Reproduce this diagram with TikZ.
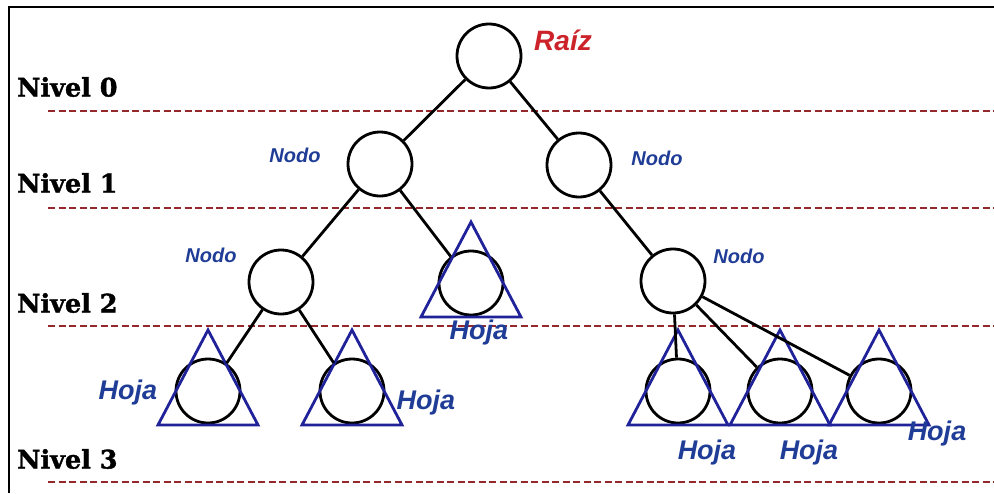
\documentclass[tikz,border=0pt]{standalone}
\usepackage{fontspec}
\setmainfont{Liberation Sans}
\newfontfamily\levelfont[FakeBold=1.5]{DejaVu Serif Bold}
\usetikzlibrary{calc}

\definecolor{levelred}{HTML}{94282A}
\definecolor{rootred}{HTML}{CC2229}
\definecolor{labelblue}{HTML}{1F3C96}
\definecolor{leafblue}{HTML}{20229A}

\tikzset{
  treenode/.style={circle, draw=black, line width=2.8pt, minimum size=64pt, inner sep=0pt},
  edge/.style={draw=black, line width=2.8pt},
  leafmark/.style={draw=leafblue, line width=2.8pt, line join=miter},
  levelline/.style={draw=levelred, line width=2.2pt, dash pattern=on 7pt off 3.5pt},
  levellabel/.style={anchor=west, inner sep=0pt, font=\levelfont\fontsize{25.5}{25.5}\selectfont},
  nodelabel/.style={inner sep=0pt, text=labelblue, font=\bfseries\itshape\fontsize{20}{20}\selectfont},
  leaflabel/.style={inner sep=0pt, text=labelblue, font=\bfseries\itshape\fontsize{27}{27}\selectfont},
  rootlabel/.style={inner sep=0pt, text=rootred, font=\bfseries\itshape\fontsize{28}{28}\selectfont},
}

\begin{document}
\begin{tikzpicture}[x=1pt, y=-1pt]
  \useasboundingbox (0,0) rectangle (994,493);
  \fill[white] (0,0) rectangle (994,493);

  % frame
  \draw[black, line width=2pt] (9,493) -- (9,7) -- (994,7);

  % level separators
  \coordinate (s0a) at (48,111); \coordinate (s0b) at (994,111);
  \coordinate (s1a) at (48,208); \coordinate (s1b) at (994,208);
  \coordinate (s2a) at (48,326); \coordinate (s2b) at (994,326);
  \coordinate (s3a) at (48,482); \coordinate (s3b) at (994,482);
  \draw[levelline] (s0a) -- (s0b);
  \draw[levelline] (s1a) -- (s1b);
  \draw[levelline] (s2a) -- (s2b);
  \draw[levelline] (s3a) -- (s3b);

  % level labels
  \node[levellabel] (n0) at (17,87) {Nivel 0};
  \node[levellabel] (n1) at (17,183) {Nivel 1};
  \node[levellabel] (n2) at (17,303) {Nivel 2};
  \node[levellabel] (n3) at (17,459) {Nivel 3};

  % tree nodes
  \node[treenode] (root) at (489,56) {};
  \node[treenode] (a)  at (380,164) {};
  \node[treenode] (b)  at (579,165) {};
  \node[treenode] (aa) at (281,282) {};
  \node[treenode] (ab) at (471,283) {};
  \node[treenode] (ba) at (673,281) {};
  \node[treenode] (aaa) at (208,391) {};
  \node[treenode] (aab) at (352,391) {};
  \node[treenode] (baa) at (678,391) {};
  \node[treenode] (bab) at (780,391) {};
  \node[treenode] (bac) at (879,391) {};

  % leaf triangles
  \foreach \leaf in {ab,aaa,aab,baa,bab,bac}{
    \draw[leafmark] ($(\leaf)+(0,-61)$) -- ($(\leaf)+(-50,34)$) -- ($(\leaf)+(50,34)$) -- cycle;
  }

  % edges
  \draw[edge] (root) -- (a);
  \draw[edge] (root) -- (b);
  \draw[edge] (a) -- (aa);
  \draw[edge] (a) -- (ab);
  \draw[edge] (b) -- (ba);
  \draw[edge] (aa) -- (aaa);
  \draw[edge] (aa) -- (aab);
  \draw[edge] (ba) -- (baa);
  \draw[edge] (ba) -- (bab);
  \draw[edge] (ba) -- (bac);

  % labels
  \node[rootlabel] (lroot) at (563,40) {Raíz};
  \node[nodelabel] (la) at (295,155) {Nodo};
  \node[nodelabel] (lb) at (657,158) {Nodo};
  \node[nodelabel] (laa) at (211,255) {Nodo};
  \node[nodelabel] (lba) at (739,256) {Nodo};
  \node[leaflabel] (lab) at (479,333) {Hoja};
  \node[leaflabel] (laaa) at (128,393) {Hoja};
  \node[leaflabel] (laab) at (426,403) {Hoja};
  \node[leaflabel] (lbaa) at (707,453) {Hoja};
  \node[leaflabel] (lbab) at (809,453) {Hoja};
  \node[leaflabel] (lbac) at (937,434) {Hoja};
\end{tikzpicture}
\end{document}
